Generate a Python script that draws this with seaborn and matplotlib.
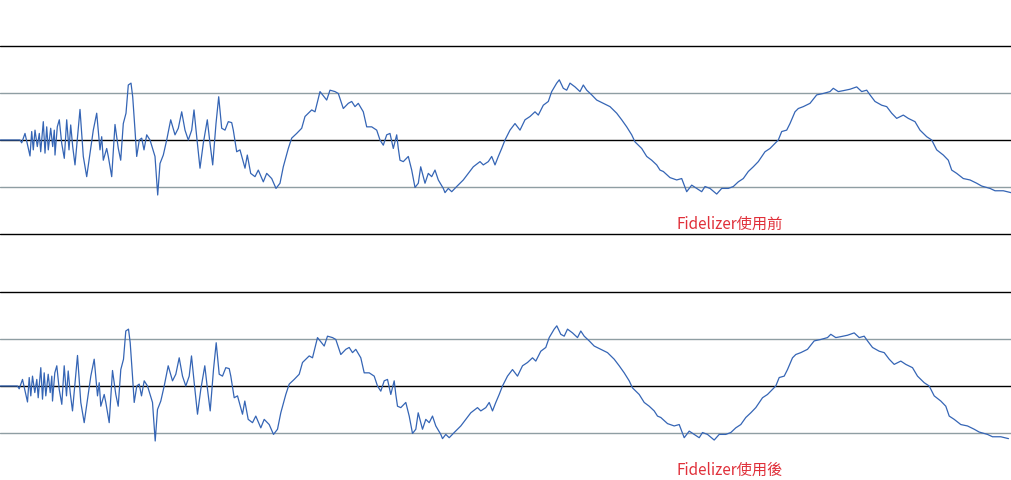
import matplotlib
matplotlib.use("Agg")
import matplotlib.pyplot as plt
import pandas as pd
import seaborn as sns

# trace: time in screen columns, level in grid units
# (grey guide lines at +/-1, black frame lines at +/-2)
TIME = [
    0, 20, 21.7, 25, 30, 31.7, 33.3, 35, 37.3, 39.3, 40.7, 43.3, 45, 46.7, 48.3,
    50.7, 52.7, 54.3, 55, 57.3, 59.3, 61.7, 64.3, 66.7, 69, 70.7, 72.7, 75, 80,
    83.3, 86.7, 90, 93.3, 96.7, 100, 101.7, 103.3, 106.7, 108.3, 111.7, 115,
    118.3, 120.7, 123.3, 126, 128.3, 131, 132.7, 135, 136.7, 139.3, 141.7, 144,
    146.7, 150, 155, 157.7, 160, 163.3, 166.7, 170.7, 175, 178.3, 181.7, 185,
    188.3, 191.7, 194, 196.7, 200, 203.3, 207.3, 210, 212.7, 216, 218.7, 221.7,
    225, 228.3, 231.7, 233.3, 236.7, 240, 245, 247.3, 250.7, 255, 258.3, 263.3,
    266.7, 271.7, 276, 280, 283.3, 288.3, 291.7, 296.7, 301.7, 305, 311.7, 315,
    320, 326.7, 330, 335, 338.3, 343.3, 348.3, 351.7, 355, 358.3, 363.3, 366.7,
    371.7, 376.7, 380, 383.3, 386.7, 390, 393.3, 396.7, 398.3, 400, 403.3,
    408.3, 411.7, 415, 418.3, 420.7, 425, 428.3, 431.7, 435, 438.3, 443.3, 445,
    448.3, 451.7, 456.7, 463.3, 468.3, 473.3, 480, 483.3, 488.3, 491.7, 495,
    498.3, 501.7, 505, 510, 515, 520, 525, 530, 535, 538.3, 543.3, 548.3,
    551.7, 556.7, 559.3, 563.3, 566.7, 570, 575, 580, 583.3, 586.7, 591.7,
    596.7, 603.3, 610, 616.7, 621.7, 626.7, 631.7, 635, 641.7, 646.7, 651.7,
    656.7, 660, 663.3, 670, 676.7, 681.7, 686.7, 691.7, 696.7, 701.7, 705, 710,
    716.7, 721.7, 728.3, 733.3, 738.3, 743.3, 748.3, 753.3, 758.3, 765, 770,
    775, 778.3, 781.7, 786.7, 790, 795, 798.3, 803.3, 810, 816.7, 823.3, 830,
    833.3, 838.3, 843.3, 850, 856.7, 861.7, 866.7, 870, 875, 881.7, 886.7,
    891.7, 896.7, 903.3, 908.3, 915, 920, 926.7, 931.7, 936.7, 943.3, 948.3,
    951.7, 956.7, 963.3, 970, 976.7, 981.7, 990, 995, 1003.3, 1011,
]
LEVEL = [
    0, 0, -0.06, 0.14, -0.34, 0.18, -0.21, 0.21, -0.14, 0.14, -0.25, 0.39, -0.28,
    0.28, -0.21, 0.25, -0.14, 0.21, -0.32, 0.28, 0.43, -0.07, -0.39, 0.43, -0.21,
    0.32, -0.14, -0.53, 0.65, -0.35, -0.78, -0.28, 0.21, 0.57, -0.21, 0.07,
    -0.43, -0.18, -0.35, -0.78, 0.33, -0.18, -0.43, 0.35, 0.57, 1.17, 1.21,
    0.92, 0.21, -0.35, 0, 0.04, -0.21, 0.11, 0, -0.35, -1.17, -0.5, -0.32, 0,
    0.43, 0.11, 0.25, 0.6, 0.21, 0, 0.21, 0.64, 0.07, -0.6, -0.07, 0.43, -0.07,
    -0.53, 0.35, 0.92, 0.25, 0.21, 0.39, 0.37, 0.21, -0.25, -0.21, -0.6, -0.32,
    -0.71, -0.78, -0.64, -0.89, -0.71, -0.82, -1.03, -0.92, -0.57, -0.18, 0.04,
    0.14, 0.25, 0.5, 0.64, 0.6, 1.03, 0.85, 1.06, 1.03, 0.99, 0.67, 0.78, 0.82,
    0.71, 0.78, 0.6, 0.28, 0.28, 0.21, 0, -0.11, 0.11, 0.14, -0.18, 0.11, -0.18,
    -0.43, -0.46, -0.35, -0.64, -1.01, -0.92, -0.57, -0.92, -0.71, -0.78, -0.64,
    -0.85, -1.03, -1.12, -1.03, -1.1, -0.99, -0.85, -0.71, -0.57, -0.46, -0.53,
    -0.46, -0.35, -0.53, -0.35, -0.18, 0, 0.21, 0.35, 0.21, 0.43, 0.5, 0.6,
    0.53, 0.74, 0.82, 1.03, 1.21, 1.28, 1.1, 1.06, 1.21, 1.13, 1.03, 1.17, 1.06,
    0.96, 0.85, 0.78, 0.71, 0.57, 0.43, 0.28, 0.11, -0.04, -0.18, -0.35, -0.43,
    -0.53, -0.64, -0.67, -0.8, -0.85, -0.82, -1.1, -0.96, -1.03, -1.1, -0.99,
    -1.03, -1.15, -1.03, -1.03, -0.99, -0.89, -0.82, -0.67, -0.57, -0.46, -0.25,
    -0.18, -0.07, 0, 0.18, 0.21, 0.35, 0.6, 0.67, 0.71, 0.78, 0.96, 0.99, 1.03,
    1.1, 1.03, 1.05, 1.08, 1.13, 1.03, 1.06, 0.96, 0.82, 0.74, 0.71, 0.57, 0.46,
    0.53, 0.46, 0.39, 0.21, 0.07, 0, -0.21, -0.32, -0.43, -0.64, -0.71, -0.82,
    -0.85, -0.92, -0.98, -1.03, -1.08, -1.08, -1.12,
]
# the "after" capture is the same waveform, arriving a couple of columns earlier
AFTER_SHIFT = -2.5

LABEL_BEFORE = "Fidelizer使用前"
LABEL_AFTER = "Fidelizer使用後"

WAVE_COLOR = "#3565b5"
GUIDE_COLOR = "#8f9ea3"
LABEL_COLOR = "#e0303a"
FONT = ["Noto Sans CJK TC", "DejaVu Sans"]

W, H = 1011, 480


def draw_panel(ax, df, label, frame_levels):
    for level in frame_levels:
        ax.axhline(level, color="black", linewidth=1.0, zorder=1, clip_on=False)
    for level in (1, -1):
        ax.axhline(level, color=GUIDE_COLOR, linewidth=1.0, zorder=1)
    sns.lineplot(data=df, x="time", y="level", color=WAVE_COLOR, linewidth=0.9,
                 estimator=None, sort=False, ax=ax, zorder=3)
    ax.text(677, -1.79, label, color=LABEL_COLOR, fontsize=11, family=FONT,
            ha="left", va="center")
    ax.set_xlim(0, W)
    ax.set_ylim(-2, 2)
    ax.set_axis_off()


def main():
    sns.set_style("white")
    plt.rcParams["font.family"] = FONT

    before = pd.DataFrame({"time": TIME, "level": LEVEL})
    after = pd.DataFrame({"time": [t + AFTER_SHIFT for t in TIME], "level": LEVEL})

    fig = plt.figure(figsize=(W / 100, H / 100), dpi=100)
    panel_h = 188 / H
    ax_top = fig.add_axes([0, 1 - 234 / H, 1, panel_h])
    ax_bottom = fig.add_axes([0, 0, 1, panel_h])

    draw_panel(ax_top, before, LABEL_BEFORE, (2, 0, -2))
    draw_panel(ax_bottom, after, LABEL_AFTER, (2, 0))

    fig.savefig("out.png", dpi=100, facecolor="white")
    plt.close(fig)


if __name__ == "__main__":
    main()
